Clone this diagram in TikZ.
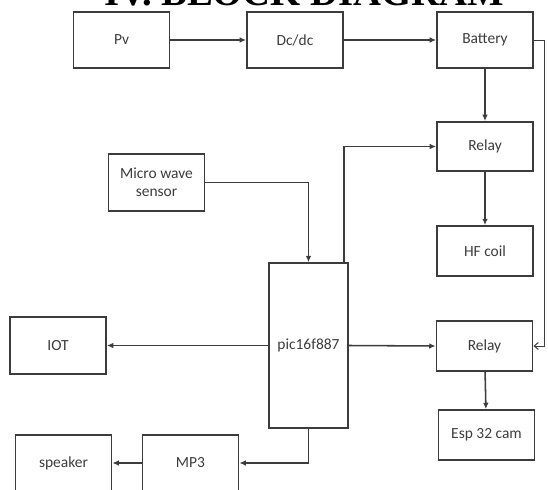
\documentclass[tikz,border=0pt]{standalone}
\usepackage{fontspec}
\setmainfont{Carlito}
\newfontfamily\titlefont{Liberation Serif}
\definecolor{bdline}{RGB}{60,60,60}
\definecolor{bdtext}{RGB}{60,60,60}
\usetikzlibrary{arrows.meta,positioning,calc}

\begin{document}
\begin{tikzpicture}[x=0.025cm, y=-0.025cm, every node/.style={font=\fontsize{11}{12.5}\selectfont, text=bdtext},
  bx/.style={draw=bdline, line width=1.3pt, minimum width=2.4cm, minimum height=1.4cm, align=center, inner sep=1pt},
  ln/.style={draw=bdline, line width=1.1pt, -{Latex[length=4.5pt,width=4pt]}}]
\useasboundingbox (0,0) rectangle (548,489);
% title, cut at the top edge
\node[anchor=base, font=\titlefont\bfseries\fontsize{27.5}{30}\selectfont, text=black] (title) at (304,5) {IV. BLOCK DIAGRAM};
% supply chain
\node[bx] (pv) at (121.5,40) {Pv};
\node[bx] (dcdc) at (295,40) {Dc/dc};
\node[bx] (battery) at (485,40) {Battery};
\node[bx, minimum height=1.23cm] (relayA) at (485,146.5) {Relay};
\node[bx, minimum height=1.25cm] (hfcoil) at (485,251) {HF coil};
% controller side
\node[bx, minimum height=1.42cm] (sensor) at (156.5,182.5) {Micro wave\\sensor};
\node[bx, minimum width=1.98cm, minimum height=4.12cm] (pic) at (308.5,345.5) {pic16f887};
\node[bx, minimum height=1.42cm] (iot) at (58,345.5) {IOT};
\node[bx, minimum height=1.25cm] (relayB) at (484.5,346) {Relay};
\node[bx, minimum height=1.25cm] (espcam) at (486.5,435) {Esp 32 cam};
\node[bx] (mp3) at (190.5,463) {MP3};
\node[bx] (speaker) at (63.5,463) {speaker};
% links
\draw[ln] (pv) -- (dcdc);
\draw[ln] (dcdc) -- (battery);
\draw[ln] (battery) -- (relayA);
\draw[ln] (relayA) -- (hfcoil);
\draw[ln] (sensor.east) -| (pic.north);
\draw[ln] ($(pic.north east)+(-5,0)$) |- (relayA.west);
\draw[ln] (pic.west) -- (iot.east);
\draw[ln] (pic.east) -- (relayB.west);
\draw[ln] (relayB) -- (espcam);
\draw[ln] (pic.south) |- (mp3.east);
\draw[ln] (mp3) -- (speaker);
\draw[draw=bdline, line width=0.7pt, -{Straight Barb[length=3pt,width=5pt]}] (battery.east) -- ++(11,0) |- (relayB.east);
\end{tikzpicture}
\end{document}
